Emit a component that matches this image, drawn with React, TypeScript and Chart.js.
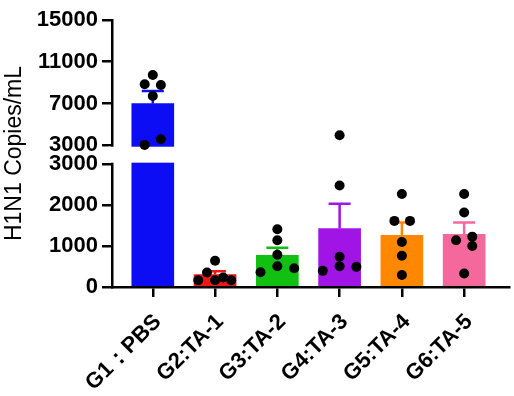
import React, { useEffect, useRef } from "react";
import { Chart, registerables, LinearScale } from "chart.js";

Chart.register(...registerables);

// ---------- data ----------
const categories = ["G1：PBS", "G2:TA-1", "G3:TA-2", "G4:TA-3", "G5:TA-4", "G6:TA-5"];
const means = [7000, 305, 772, 1426, 1264, 1288];
const sems = [1195, 80, 187, 607, 310, 286];

const g1Values = [9734, 8840, 8770, 7714, 3577, 3030];
const g2Values = [640, 354, 165, 165, 231, 165];
const g3Values = [1411, 1141, 787, 509, 361, 460];
const g4Values = [3962, 2480, 738, 509, 394, 492];
const g5Values = [2272, 1615, 1615, 1099, 762, 295];
const g6Values = [2272, 1820, 1141, 1230, 1000, 329];
const groupValues = [g1Values, g2Values, g3Values, g4Values, g5Values, g6Values];

// horizontal jitter of the dots (category units)
const g1Jitter = [0, -0.13, 0.13, 0, 0.13, -0.13];
const g2Jitter = [0, -0.13, -0.27, 0, 0.13, 0.26];
const g3Jitter = [0, 0, 0, 0, -0.27, 0.27];
const g4Jitter = [0, 0, 0, 0, -0.27, 0.27];
const g5Jitter = [0, -0.12, 0.13, 0, 0, 0];
const g6Jitter = [0, 0, -0.13, 0.13, 0.13, 0];
const groupJitter = [g1Jitter, g2Jitter, g3Jitter, g4Jitter, g5Jitter, g6Jitter];

const lowerTicks = [0, 1000, 2000, 3000];
const upperTicks = [3000, 7000, 11000, 15000];
const breakValue = 3000;
const yMin = 0;
const yMax = 15000;

const barColors = ["#0D0DF5", "#F01616", "#12C012", "#A014E6", "#FF8800", "#F4689B"];

// ---------- layout constants ----------
const LOWER_FRACTION = 0.46;
const GAP_FRACTION = 0.071;
const FONT = "'Liberation Sans', Arial, sans-serif";

class BrokenLinearScale extends (LinearScale as any) {
  static id = "brokenLinear";
  static defaults = {};

  determineDataLimits() {
    this.min = yMin;
    this.max = yMax;
  }
  buildTicks() {
    return [...lowerTicks.map((v) => ({ value: v })), ...upperTicks.map((v) => ({ value: v }))];
  }
  _segs() {
    const len = this.bottom - this.top;
    const lowLen = len * LOWER_FRACTION;
    const gap = len * GAP_FRACTION;
    const highLen = len - lowLen - gap;
    return { lowLen, gap, highLen };
  }
  pixelFor(value: number, upper: boolean) {
    const { lowLen, gap, highLen } = this._segs();
    if (!upper) return this.bottom - ((value - yMin) / (breakValue - yMin)) * lowLen;
    return this.bottom - lowLen - gap - ((value - breakValue) / (yMax - breakValue)) * highLen;
  }
  boundaryPixel(upper: boolean) {
    return this.pixelFor(breakValue, upper);
  }
  getPixelForValue(value: number) {
    return this.pixelFor(value, value > breakValue);
  }
  getPixelForTick(index: number) {
    const ticks = this.ticks;
    if (index < 0 || index > ticks.length - 1) return null;
    return this.pixelFor(ticks[index].value, index >= lowerTicks.length);
  }
  getValueForPixel(pixel: number) {
    const { lowLen, gap, highLen } = this._segs();
    const fromBottom = this.bottom - pixel;
    if (fromBottom <= lowLen) return yMin + (fromBottom / lowLen) * (breakValue - yMin);
    const up = fromBottom - lowLen - gap;
    return breakValue + (Math.max(up, 0) / highLen) * (yMax - breakValue);
  }
}

Chart.register(BrokenLinearScale as any);

const breakPlugin = {
  id: "breakAndErrors",
  afterDatasetDraw(chart: any, args: any) {
    if (args.meta.type !== "bar") return;
    const ctx = chart.ctx;
    const y = chart.scales.y;
    const area = chart.chartArea;
    const upperPx = y.boundaryPixel(true);
    const lowerPx = y.boundaryPixel(false);
    ctx.save();
    ctx.fillStyle = "#ffffff";
    ctx.fillRect(area.left - 4, upperPx + 1.5, area.right - area.left + 4, lowerPx - upperPx - 3);
    // error bars (mean + SEM)
    ctx.lineWidth = 2.5;
    const capHalf = 11;
    args.meta.data.forEach((bar: any, i: number) => {
      const x = bar.x;
      const yb = y.getPixelForValue(means[i]);
      const yt = y.getPixelForValue(means[i] + sems[i]);
      ctx.strokeStyle = barColors[i];
      ctx.beginPath();
      ctx.moveTo(x, yb);
      ctx.lineTo(x, yt);
      ctx.moveTo(x - capHalf, yt);
      ctx.lineTo(x + capHalf, yt);
      ctx.stroke();
    });
    ctx.restore();
  },
};

export default function App() {
  const ref = useRef<HTMLCanvasElement>(null);
  useEffect(() => {
    const barData = means.map((m, i) => ({ x: i, y: m }));
    const dotData: { x: number; y: number }[] = [];
    groupValues.forEach((vals, i) => {
      vals.forEach((v, j) => dotData.push({ x: i + groupJitter[i][j], y: v }));
    });
    const chart = new Chart(ref.current as HTMLCanvasElement, {
      type: "bar",
      data: {
        datasets: [
          {
            type: "bar",
            data: barData as any,
            backgroundColor: barColors,
            borderWidth: 0,
            barThickness: 42,
            order: 2,
          } as any,
          {
            type: "scatter",
            data: dotData as any,
            backgroundColor: "#000000",
            borderWidth: 0,
            pointRadius: 5,
            order: 1,
          } as any,
        ],
      },
      options: {
        animation: false,
        responsive: false,
        events: [],
        devicePixelRatio: 1,
        layout: { padding: { top: 20, right: 0, left: 0, bottom: 0 } },
        plugins: { legend: { display: false }, tooltip: { enabled: false } },
        scales: {
          x: {
            type: "linear",
            offset: false,
            min: -0.655,
            max: 5.72,
            afterBuildTicks: (s: any) => {
              s.ticks = categories.map((_, i) => ({ value: i }));
            },
            afterFit: (s: any) => {
              s.height = 109;
              s.paddingLeft = 0;
              s.paddingRight = 0;
            },
            grid: { display: true, offset: false, drawOnChartArea: false, drawTicks: true, tickLength: 10, color: "#000", lineWidth: 2.5 },
            border: { display: true, color: "#000", width: 2.5 },
            ticks: {
              autoSkip: false,
              maxRotation: 45,
              minRotation: 45,
              color: "#000",
              padding: 12,
              labelOffset: 5,
              font: { family: FONT, size: 22, weight: "bold" },
              callback: (v: any) => categories[Math.round(Number(v))] ?? "",
            },
          },
          y: {
            type: "brokenLinear" as any,
            min: yMin,
            max: yMax,
            afterFit: (s: any) => {
              s.width = 112;
              s.paddingTop = 0;
              s.paddingBottom = 0;
            },
            grid: { display: true, drawOnChartArea: false, drawTicks: true, tickLength: 10, color: "#000", lineWidth: 2.5 },
            border: { display: true, color: "#000", width: 2.5 },
            ticks: {
              autoSkip: false,
              color: "#000",
              padding: 4,
              font: { family: FONT, size: 22, weight: "bold" },
              callback: (v: any) => String(v),
            },
            title: {
              display: true,
              text: "H1N1 Copies/mL",
              color: "#000",
              padding: { top: 1, bottom: 0 },
              font: { family: FONT, size: 23, weight: "normal" },
            },
          } as any,
        },
      },
      plugins: [breakPlugin],
    } as any);
    return () => chart.destroy();
  }, []);
  return (
    <div style={{ position: "absolute", left: 0, top: 0, width: 514, height: 396, background: "#fff" }}>
      <canvas ref={ref} width={514} height={396} style={{ display: "block" }} />
    </div>
  );
}
